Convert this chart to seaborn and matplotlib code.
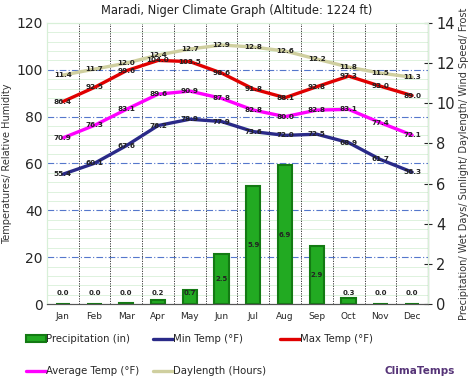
"""Maradi, Niger climate graph."""

import matplotlib
matplotlib.use("Agg")
import matplotlib.pyplot as plt
from matplotlib.lines import Line2D
from matplotlib.patches import Patch
import numpy as np
import pandas as pd
import seaborn as sns

months = ["Jan", "Feb", "Mar", "Apr", "May", "Jun",
          "Jul", "Aug", "Sep", "Oct", "Nov", "Dec"]
precip_in = [0.0, 0.0, 0.04, 0.2, 0.7, 2.5, 5.9, 6.9, 2.9, 0.3, 0.0, 0.0]
min_temp = [55.4, 60.1, 67.6, 76.2, 78.9, 77.9, 73.6, 72.0, 72.5, 68.9, 61.7, 56.3]
max_temp = [86.4, 92.5, 99.6, 104.0, 103.5, 98.6, 91.8, 88.1, 92.8, 97.3, 93.0, 89.0]
avg_temp = [70.9, 76.3, 83.1, 89.6, 90.9, 87.8, 82.8, 80.0, 82.8, 83.1, 77.4, 72.1]
daylength = [11.4, 11.7, 12.0, 12.4, 12.7, 12.9, 12.8, 12.6, 12.2, 11.8, 11.5, 11.3]

sns.set_style("white")
plt.rcParams["font.family"] = ["DejaVu Sans"]

df = pd.DataFrame({"month": months, "x": np.arange(12), "precip": precip_in,
                   "tmin": min_temp, "tmax": max_temp, "tavg": avg_temp,
                   "day": daylength})

fig = plt.figure(figsize=(4.74, 3.89), dpi=100)
ax = fig.add_axes([0.099, 0.2185, 0.804, 0.7225])
ax2 = ax.twinx()

ax.set_xlim(-0.5, 11.5)
ax.set_ylim(0, 120)
ax2.set_ylim(0, 14)

# grid
for y in np.arange(4, 120, 4):
    if y % 20:
        ax2.axhline(y * 14 / 120, color="#d8f0d8", lw=0.6, zorder=0)
for y in range(20, 120, 20):
    ax2.axhline(y * 14 / 120, color="#5577cc", lw=0.8, ls=(0, (6, 2, 1, 2)), zorder=0)
for xv in np.arange(0.5, 11.5, 1):
    ax2.axvline(xv, color="#222222", lw=0.6, ls=(0, (1.5, 1.5)), zorder=0)

# precipitation bars (right axis)
sns.barplot(data=df, x="x", y="precip", ax=ax2, color="#22aa22",
            edgecolor="#137a13", linewidth=1.5, width=0.45, saturation=1,
            native_scale=True, zorder=2)
for xi, v in zip(df["x"], precip_in):
    yy = v / 2 if v > 1 else 0.55
    ax2.text(xi, yy, f"{v:.1f}", ha="center", va="center", fontsize=5,
             fontweight="bold", color="#222222", zorder=5)

# temperature lines (left axis) and daylength (right axis)
series = [("tmax", max_temp, "#e00000", ax), ("tavg", avg_temp, "#ff00ff", ax),
          ("tmin", min_temp, "#2a2a88", ax), ("day", daylength, "#cfcf9f", ax2)]
for col, vals, color, a in series:
    sns.lineplot(data=df, x="x", y=col, ax=a, color=color, lw=2.4, zorder=3)
    for xi, v in zip(df["x"], vals):
        a.text(xi, v, f"{v:.1f}", ha="center", va="center", fontsize=5.2,
               fontweight="bold", color="#222222", zorder=6)

ax.set_xticks(df["x"], months, fontsize=6.5)
ax.set_yticks(range(0, 121, 20))
ax.tick_params(axis="y", labelsize=10, length=0, pad=3)
ax.tick_params(axis="x", length=3, pad=3)
ax2.set_yticks(range(0, 15, 2))
ax2.tick_params(axis="y", labelsize=10.5, length=6, direction="inout", pad=3)
ax.set_xlabel("")
ax.set_ylabel("Temperatures/ Relative Humidity", fontsize=7, color="#333333",
              labelpad=3)
ax2.set_ylabel("Precipitation/ Wet Days/ Sunlight/ Daylength/ Wind Speed/ Frost",
               fontsize=7, color="#333333", labelpad=3)
ax2.set_xlabel("")

for a in (ax, ax2):
    for s in a.spines.values():
        s.set_color("#d8f0d8")
ax2.spines["right"].set_color("#333333")
ax.spines["bottom"].set_color("#555555")
ax2.spines["bottom"].set_color("#555555")
ax.set_zorder(ax2.get_zorder() + 1)
ax.patch.set_visible(False)

fig.text(0.5, 0.972, "Maradi, Niger Climate Graph (Altitude: 1224 ft)",
         ha="center", va="center", fontsize=8.3, color="#222222")

handles = [Patch(facecolor="#22aa22", edgecolor="#137a13", lw=1.5),
           Line2D([], [], color="#ff00ff", lw=2.4),
           Line2D([], [], color="#2a2a88", lw=2.4),
           Line2D([], [], color="#cfcf9f", lw=2.4),
           Line2D([], [], color="#e00000", lw=2.4)]
labels = ["Precipitation (in)", "Average Temp (°F)", "Min Temp (°F)",
          "Daylength (Hours)", "Max Temp (°F)"]
fig.legend(handles, labels, ncol=3, loc="upper left",
           bbox_to_anchor=(0.035, 0.165), frameon=False, fontsize=7.3,
           handlelength=2.0, handletextpad=0.0, columnspacing=1.35,
           labelspacing=2.2, handleheight=0.6)
fig.text(0.886, 0.046, "ClimaTemps", ha="center", va="center", fontsize=7.5,
         fontweight="bold", color="#553377")

fig.savefig("out.png", dpi=100)
